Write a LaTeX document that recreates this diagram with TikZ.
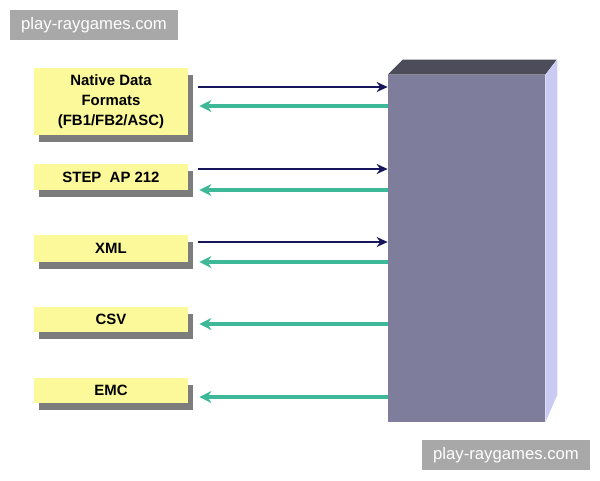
\documentclass[tikz,border=0pt]{standalone}
\usepackage{fontspec}
\setmainfont{Liberation Sans}
\usepackage{tikz}
\usetikzlibrary{calc,arrows.meta,shadows}
\definecolor{boxyellow}{HTML}{FBF99A}
\definecolor{boxgray}{HTML}{7C7C7C}
\definecolor{navyline}{HTML}{16165C}
\definecolor{tealline}{HTML}{3DB99A}
\definecolor{hostfront}{HTML}{7E7E9C}
\definecolor{hosttop}{HTML}{4C4C5A}
\definecolor{hostside}{HTML}{CACAF2}
\definecolor{markgray}{HTML}{A8A8A8}
\tikzset{
	fmtbox/.style={fill=boxyellow,minimum width=3.08cm,inner sep=0pt,align=center,
		font=\fontsize{8.5}{11.3}\selectfont\bfseries,
		drop shadow={shadow xshift=0.1cm,shadow yshift=-0.13cm,fill=boxgray,opacity=1}},
	toarrow/.style={draw=navyline,line width=1.4pt,-{Stealth[length=2.2mm,width=2mm]}},
	fromarrow/.style={draw=tealline,line width=1.9pt,-{Stealth[length=2.4mm,width=2.4mm]}},
	watermark/.style={fill=markgray,text=white,minimum width=3.36cm,minimum height=0.6cm,
		font=\fontsize{9.5}{11}\selectfont}
}

\begin{document}
\begin{tikzpicture}
			\useasboundingbox (0,0) rectangle (12,-9.6);
			
			% formats on the left
			\node[fmtbox,minimum height=1.34cm] (native) at (2.22,-2.03) {Native Data\\Formats\\(FB1/FB2/ASC)};
			\node[fmtbox,minimum height=0.52cm] (step) at (2.22,-3.54) {STEP\ \ AP 212};
			\node[fmtbox,minimum height=0.54cm] (xml) at (2.22,-4.97) {XML};
			\node[fmtbox,minimum height=0.5cm] (csv) at (2.22,-6.39) {CSV};
			\node[fmtbox,minimum height=0.5cm] (emc) at (2.22,-7.81) {EMC};
			
			% the block on the right
			\node[fill=hostfront,minimum width=3.14cm,minimum height=6.94cm,inner sep=0pt] (host) at (9.33,-4.97) {};
			\fill[hosttop] (host.north west) -- ++(0.3,0.3) -- ++(3.08,0) -- (host.north east) -- cycle;
			\fill[hostside] (host.north east) -- ++(0.24,0.3) -- ++(0,-6.7) -- (host.south east) -- cycle;
			
			% connectors
			\draw[toarrow] ([xshift=0.2cm]native.east |- 0,-1.74) -- (host.west |- 0,-1.74);
			\draw[fromarrow] (host.west |- 0,-2.12) -- ([xshift=0.22cm]native.east |- 0,-2.12);
			\draw[toarrow] ([xshift=0.2cm]step.east |- 0,-3.38) -- (host.west |- 0,-3.38);
			\draw[fromarrow] (host.west |- 0,-3.80) -- ([xshift=0.22cm]step.east |- 0,-3.80);
			\draw[toarrow] ([xshift=0.2cm]xml.east |- 0,-4.84) -- (host.west |- 0,-4.84);
			\draw[fromarrow] (host.west |- 0,-5.24) -- ([xshift=0.22cm]xml.east |- 0,-5.24);
			\draw[fromarrow] (host.west |- 0,-6.48) -- ([xshift=0.22cm]csv.east |- 0,-6.48);
			\draw[fromarrow] (host.west |- 0,-7.94) -- ([xshift=0.22cm]emc.east |- 0,-7.94);
			
			\node[watermark] (mark1) at (1.88,-0.5) {play-raygames.com};
			\node[watermark] (mark2) at (10.12,-9.1) {play-raygames.com};
\end{tikzpicture}
\end{document}
